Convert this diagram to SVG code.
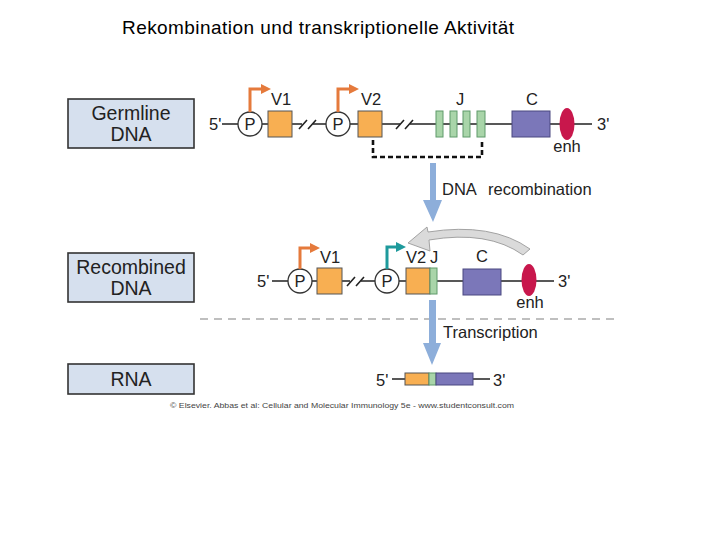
<svg xmlns="http://www.w3.org/2000/svg" width="720" height="540" viewBox="0 0 720 540">
<style>
text{font-family:"Liberation Sans",Arial,sans-serif;fill:#222}
.t{font-size:19px;fill:#000}
.lb{font-size:19.5px;text-anchor:middle}
.s{font-size:16.5px}
.c{text-anchor:middle}
.box{fill:#D6E0EE;stroke:#333;stroke-width:1.6}
.dna{stroke:#222;stroke-width:1.6;fill:none}
.p{fill:#fff;stroke:#333;stroke-width:1.3}
.v{fill:#F8AF52;stroke:#555;stroke-width:1}
.j{fill:#A9D5A9;stroke:#5f9a6a;stroke-width:1}
.cc{fill:#7B77B9;stroke:#4b4880;stroke-width:1}
.enh{fill:#C8174C}
.pro{fill:none;stroke:#E57A3C;stroke-width:3}
.teal{fill:none;stroke:#1E9A9C;stroke-width:3}
.blue{fill:#8DAEDA}
</style>
<rect width="720" height="540" fill="#fff"/>
<text class="t" x="122" y="34" textLength="392" lengthAdjust="spacing">Rekombination und transkriptionelle Aktivität</text>

<g id="label-germline"><rect class="box" x="68" y="99" width="126" height="49"/><text class="lb" x="131" y="120">Germline</text><text class="lb" x="131" y="141">DNA</text></g>
<g id="label-recombined"><rect class="box" x="68" y="253" width="126" height="49"/><text class="lb" x="131" y="274">Recombined</text><text class="lb" x="131" y="295">DNA</text></g>
<g id="label-rna"><rect class="box" x="68" y="364" width="126" height="30"/><text class="lb" x="131" y="386">RNA</text></g>

<g id="germline">
<path class="dna" d="M222,124H238M262,124H268M292,124H302M313,124H326M350,124H358M382,124H400M410,124H436M485,124H512M550,124H592"/>
<path class="dna" d="M299,129L307,120M308,129L316,120M396,129L404,120M405,129L413,120"/>
<text class="s" x="209" y="130">5'</text>
<circle class="p" cx="250" cy="124" r="12"/><text class="s c" x="250" y="130">P</text>
<path class="pro" d="M250,112V89H262"/><path d="M261,84L271,89L261,94Z" fill="#E57A3C"/>
<rect class="v" x="268" y="111" width="24" height="26"/>
<text class="s c" x="281" y="105">V1</text>
<circle class="p" cx="338" cy="124" r="12"/><text class="s c" x="338" y="130">P</text>
<path class="pro" d="M338,112V89H350"/><path d="M349,84L359,89L349,94Z" fill="#E57A3C"/>
<rect class="v" x="358" y="111" width="24" height="26"/>
<text class="s c" x="371" y="105">V2</text>
<path class="dna" d="M443,124H450M457,124H463M470,124H477"/>
<rect class="j" x="436" y="111" width="7" height="26"/>
<rect class="j" x="450" y="111" width="7" height="26"/>
<rect class="j" x="463" y="111" width="7" height="26"/>
<rect class="j" x="477" y="111" width="8" height="26"/>
<text class="s c" x="460" y="105">J</text>
<rect class="cc" x="512" y="111" width="38" height="26"/>
<text class="s c" x="532" y="105">C</text>
<ellipse class="enh" cx="567" cy="124" rx="7.5" ry="16"/>
<text class="s c" x="567" y="152">enh</text>
<text class="s" x="597" y="130">3'</text>
<path d="M373,140V157H482V140" fill="none" stroke="#111" stroke-width="2.6" stroke-dasharray="5,3"/>
</g>

<g id="recombined">
<path class="dna" d="M272,281H288M312,281H317M342,281H350M361,281H375M399,281H406M437,281H463M501,281H554"/>
<path class="dna" d="M347,286L355,277M356,286L364,277"/>
<text class="s" x="257" y="287">5'</text>
<circle class="p" cx="300" cy="281" r="12"/><text class="s c" x="300" y="287">P</text>
<path class="pro" d="M300,269V248H311"/><path d="M310,243L320,248L310,253Z" fill="#E57A3C"/>
<rect class="v" x="317" y="268" width="25" height="26"/>
<text class="s c" x="330" y="263">V1</text>
<circle class="p" cx="387" cy="281" r="12"/><text class="s c" x="387" y="287">P</text>
<path class="teal" d="M387,269V247H397"/><path d="M396,242L406,247L396,252Z" fill="#1E9A9C"/>
<rect class="v" x="406" y="268" width="24" height="26"/>
<rect class="j" x="430" y="268" width="7" height="26"/>
<text class="s c" x="416" y="263">V2</text>
<text class="s c" x="434" y="263">J</text>
<rect class="cc" x="463" y="269" width="38" height="26"/>
<text class="s c" x="482" y="262">C</text>
<ellipse class="enh" cx="529" cy="280" rx="7.5" ry="16"/>
<text class="s c" x="530" y="308">enh</text>
<text class="s" x="558" y="287">3'</text>
</g>

<g id="rna">
<path class="dna" d="M392,379H405M473,379H490"/>
<text class="s" x="376" y="386">5'</text>
<rect class="v" x="405" y="373" width="24" height="12"/>
<rect class="j" x="429" y="373" width="7" height="12"/>
<rect class="cc" x="436" y="373" width="37" height="12"/>
<text class="s" x="493" y="386">3'</text>
</g>

<g id="connectors">
<path class="blue" d="M430,163H436V200H442L433,222L423,200H430Z"/>
<text class="s" x="442" y="195">DNA</text><text class="s" x="488" y="195">recombination</text>
<path d="M530,249Q492,222 428,232L427,227L408,243L430,251L429,240Q488,230 523,255Z" fill="#DADADA" stroke="#9a9a9a" stroke-width="0.9"/>
<line x1="200" y1="319" x2="618" y2="319" stroke="#AAAAAA" stroke-width="1.5" stroke-dasharray="8,6"/>
<path class="blue" d="M429,300H436V343H441L432,365L423,343H429Z"/>
<text class="s" x="443" y="338">Transcription</text>
</g>

<text x="170" y="408" font-size="8" textLength="344" lengthAdjust="spacingAndGlyphs" style="fill:#444">© Elsevier. Abbas et al: Cellular and Molecular Immunology 5e - www.studentconsult.com</text>
</svg>
